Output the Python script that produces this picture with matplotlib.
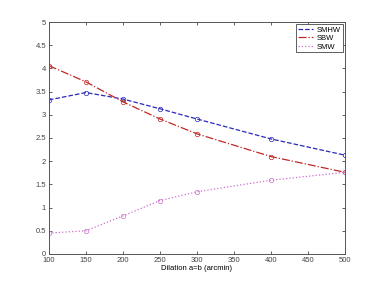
import matplotlib
matplotlib.use('Agg')
import matplotlib.pyplot as plt

plt.rcParams['font.family'] = 'Liberation Sans'

dilation = [100, 150, 200, 250, 300, 400, 500]
smhw = [3.32, 3.48, 3.34, 3.13, 2.91, 2.48, 2.13]
sbw = [4.06, 3.71, 3.28, 2.91, 2.59, 2.10, 1.76]
smw = [0.45, 0.50, 0.82, 1.15, 1.34, 1.59, 1.76]

fig = plt.figure(figsize=(3.82, 2.86), dpi=100)
ax = fig.add_axes([0.128, 0.112, 0.775, 0.811])

ax.plot(dilation, smhw, '--o', color='#2a2ab8', lw=0.9, ms=3.2, mfc='none', mew=0.5, label='SMHW')
ax.plot(dilation, sbw, '-.o', color='#c02828', lw=0.9, ms=3.2, mfc='none', mew=0.5, label='SBW')
ax.plot(dilation, smw, ':o', color='#cc70cc', lw=0.9, ms=3.2, mfc='none', mew=0.5, label='SMW')

ax.set_xlim(100, 500)
ax.set_ylim(0, 5)
ax.set_xticks([100, 150, 200, 250, 300, 350, 400, 450, 500])
ax.set_yticks([0, 0.5, 1, 1.5, 2, 2.5, 3, 3.5, 4, 4.5, 5])
ax.set_yticklabels(['0', '0.5', '1', '1.5', '2', '2.5', '3', '3.5', '4', '4.5', '5'])
ax.tick_params(direction='in', top=True, right=True, labelsize=5.5, length=2.5, width=0.6, pad=2, colors='#444444')
for s in ax.spines.values():
    s.set_color('#555555')
    s.set_linewidth(0.7)
ax.set_xlabel('Dilation a=b (arcmin)', fontsize=5.5, labelpad=1)

leg = ax.legend(loc='upper right', fontsize=5.5, fancybox=False, framealpha=1,
                edgecolor='#444444', handlelength=2.0, handletextpad=0.5, borderpad=0.25,
                labelspacing=0.15, borderaxespad=0.3)
leg.get_frame().set_linewidth(0.6)
for h in leg.get_lines():
    h.set_marker('None')

fig.savefig('out.png', dpi=100)
